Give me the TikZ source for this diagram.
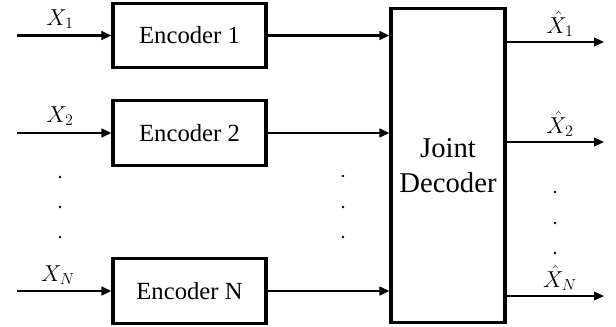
\documentclass[tikz,border=0pt]{standalone}
\usepackage{fontspec}
\setmainfont{Liberation Serif}
\usetikzlibrary{arrows.meta}

\tikzset{
  encbox/.style={draw, line width=2.4pt, minimum width=114.75pt, minimum height=48.5pt,
    inner sep=0pt, font=\fontsize{18.5}{22}\selectfont},
  decbox/.style={draw, line width=2.4pt, minimum width=85.5pt, minimum height=236pt,
    inner sep=0pt, align=center, font=\fontsize{21.5}{26}\selectfont},
  sig/.style={line width=1.6pt, -{Triangle[length=7.5pt,width=6.5pt]}},
  lbl/.style={font=\fontsize{18.5}{20}\selectfont, inner sep=1pt},
}

\begin{document}
\begin{tikzpicture}[x=0.75pt,y=-0.75pt]
  \useasboundingbox (0,0) rectangle (616,326);

  % encoders and decoder
  \node[encbox] (enc1) at (189.5,35.5) {Encoder 1};
  \node[encbox] (enc2) at (189.5,133) {Encoder 2};
  \node[encbox] (encN) at (189.5,291) {Encoder N};
  \node[decbox] (dec) at (448,165.5) {Joint\\Decoder};

  % sources
  \coordinate (in1) at (17,35.5);
  \coordinate (in2) at (17,133);
  \coordinate (inN) at (17,291);
  \node[lbl] (x1) at (60,19) {$X_1$};
  \node[lbl] (x2) at (60,116) {$X_2$};
  \node[lbl] (xN) at (58,275) {$X_N$};

  \draw[sig] (in1) -- (enc1.west);
  \draw[sig] (in2) -- (enc2.west);
  \draw[sig] (inN) -- (encN.west);

  % encoder outputs
  \draw[sig] (enc1.east) -- (enc1.east -| dec.west);
  \draw[sig] (enc2.east) -- (enc2.east -| dec.west);
  \draw[sig] (encN.east) -- (encN.east -| dec.west);

  % estimates
  \coordinate (out1) at (604,42);
  \coordinate (out2) at (604,142);
  \coordinate (outN) at (604,296);
  \node[lbl] (xh1) at (560,24) {$\hat{X}_1$};
  \node[lbl] (xh2) at (560,124) {$\hat{X}_2$};
  \node[lbl] (xhN) at (560,278) {$\hat{X}_N$};

  \draw[sig] (out1 -| dec.east) -- (out1);
  \draw[sig] (out2 -| dec.east) -- (out2);
  \draw[sig] (outN -| dec.east) -- (outN);

  % dots
  \fill (60,177) circle (1pt);
  \fill (60,207) circle (1pt);
  \fill (60,237) circle (1pt);
  \fill (343,176) circle (1pt);
  \fill (343,207) circle (1pt);
  \fill (343,237) circle (1pt);
  \fill (555,192) circle (1pt);
  \fill (555,223) circle (1pt);
  \fill (555,253) circle (1pt);

\end{tikzpicture}
\end{document}
